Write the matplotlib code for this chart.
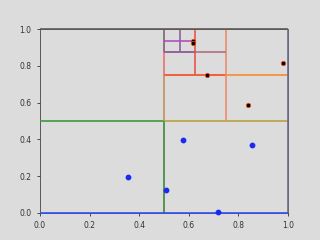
import matplotlib
matplotlib.use("Agg")
import matplotlib.pyplot as plt

# quadtree split lines: start x, start y, end x, end y, colour
seg_x0 = [0.0, 0.5, 0.5, 0.5, 0.5, 0.5, 0.75, 0.5, 0.5, 0.5, 0.625, 0.5, 0.5, 0.5625, 0.0, 1.0, 0.0]
seg_y0 = [0.5, 0.0, 0.5, 0.5, 0.75, 0.75, 0.5, 0.75, 0.875, 0.875, 0.75, 0.9375, 0.875, 0.875, 1.0, 0.0, 0.0]
seg_x1 = [0.5, 0.5, 1.0, 0.5, 1.0, 0.75, 0.75, 0.5, 0.75, 0.5, 0.625, 0.625, 0.625, 0.5625, 1.0, 1.0, 1.0]
seg_y1 = [0.5, 0.5, 0.5, 0.75, 0.75, 0.75, 1.0, 0.875, 0.875, 1.0, 1.0, 0.9375, 0.875, 1.0, 1.0, 1.0, 0.0]
seg_colors = ['#3c9a3c', '#3c8a3c', '#b8a040', '#c09058', '#f88a30', '#f05838',
              '#ec8a6a', '#e87070', '#b07080', '#806070', '#e85848', '#b050c0',
              '#9060a0', '#9060a0', '#605858', '#6a6a90', '#3050f0']

# points in the lower half (blue) and the subdivided upper part (black)
low_x = [0.354, 0.509, 0.575, 0.853, 0.716]
low_y = [0.197, 0.127, 0.397, 0.370, 0.005]
high_x = [0.616, 0.616, 0.672, 0.837, 0.981]
high_y = [0.936, 0.924, 0.748, 0.587, 0.817]

bg = '#dcdcdc'
fig = plt.figure(figsize=(3.2, 2.4), dpi=100, facecolor=bg)
ax = fig.add_subplot(111)
ax.set_facecolor(bg)

for x0, y0, x1, y1, c in zip(seg_x0, seg_y0, seg_x1, seg_y1, seg_colors):
    ax.plot([x0, x1], [y0, y1], color=c, lw=1.2, solid_capstyle='butt',
            clip_on=False, zorder=3)

ax.scatter(low_x, low_y, s=10, color='#1a2af0', zorder=4, clip_on=False)
ax.scatter(high_x, high_y, s=10, color='black', edgecolors='#e05020', linewidths=0.6,
           zorder=4, clip_on=False)

ax.set_xlim(0, 1)
ax.set_ylim(0, 1)
ax.set_xticks([0, 0.2, 0.4, 0.6, 0.8, 1.0])
ax.set_yticks([0, 0.2, 0.4, 0.6, 0.8, 1.0])
ax.tick_params(labelsize=5.5, length=2.5, width=0.6, colors='#333333')
for s in ax.spines.values():
    s.set_linewidth(0.6)
    s.set_color('#444444')

fig.subplots_adjust(left=0.125, right=0.9, bottom=0.1125, top=0.879)
fig.savefig('out.png', dpi=100, facecolor=bg)
